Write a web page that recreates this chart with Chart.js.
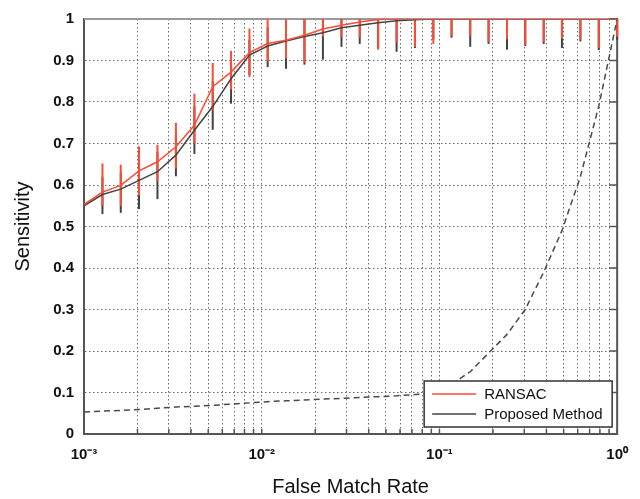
<!DOCTYPE html>
<html>
<head>
<meta charset="utf-8">
<script src="https://cdn.jsdelivr.net/npm/chart.js@4/dist/chart.umd.min.js"></script>
<style>
  html, body { margin: 0; padding: 0; background: #fff; }
  #wrap { width: 640px; height: 499px; }
</style>
</head>
<body>
<div id="wrap"><canvas id="chart"></canvas></div>
<script>
// false match rate sample points (log spaced)
const fmr = [0.001, 0.00127, 0.00161, 0.00204, 0.00259, 0.00329, 0.00418, 0.0053, 0.00672, 0.00853,
             0.0108, 0.0137, 0.0174, 0.0221, 0.0281, 0.0356, 0.0452, 0.0574, 0.0728, 0.0924,
             0.117, 0.149, 0.189, 0.24, 0.304, 0.386, 0.489, 0.621, 0.788, 1];

const ransac = [0.553, 0.583, 0.599, 0.634, 0.656, 0.692, 0.744, 0.837, 0.872, 0.919,
                0.941, 0.949, 0.961, 0.976, 0.985, 0.993, 0.999, 1, 1, 1,
                1, 1, 1, 1, 1, 1, 1, 1, 1, 1];
const ransacHigh = [null, 0.652, 0.649, 0.693, 0.697, 0.75, 0.82, 0.894, 0.923, 0.977,
                    1, 1, 1, 1, 1, 1, 1, 1, 1, 1,
                    1, 1, 1, 1, 1, 1, 1, 1, 1, 1];
const ransacLow = [null, 0.55, 0.55, 0.575, 0.61, 0.64, 0.70, 0.78, 0.83, 0.86,
                   0.898, 0.905, 0.895, 0.958, 0.957, 0.955, 0.926, 0.945, 0.933, 0.94,
                   0.959, 0.96, 0.945, 0.951, 0.937, 0.945, 0.953, 0.95, 0.93, 0.957];

const proposed = [0.55, 0.577, 0.59, 0.611, 0.632, 0.672, 0.732, 0.789, 0.856, 0.913,
                  0.935, 0.947, 0.958, 0.967, 0.979, 0.985, 0.991, 0.996, 0.998, 1,
                  1, 1, 1, 1, 1, 1, 1, 1, 1, 1];
const proposedHigh = [null, 0.62, 0.63, 0.66, 0.68, 0.72, 0.79, 0.85, 0.9, 0.95,
                      0.98, 0.99, 1, 1, 1, 1, 1, 1, 1, 1,
                      1, 1, 1, 1, 1, 1, 1, 1, 1, 1];
const proposedLow = [null, 0.53, 0.533, 0.542, 0.566, 0.621, 0.675, 0.733, 0.796, 0.865,
                     0.884, 0.88, 0.89, 0.902, 0.933, 0.94, 0.93, 0.921, 0.93, 0.95,
                     0.955, 0.933, 0.94, 0.926, 0.935, 0.94, 0.93, 0.946, 0.925, 0.95];

const chance = [0.053, 0.055, 0.057, 0.059, 0.062, 0.065, 0.067, 0.069, 0.072, 0.075,
                0.078, 0.080, 0.082, 0.084, 0.086, 0.088, 0.090, 0.092, 0.095, 0.098,
                0.12, 0.15, 0.195, 0.24, 0.30, 0.39, 0.49, 0.62, 0.79, 1.0];

const xTicks = [0.001, 0.002, 0.003, 0.004, 0.005, 0.006, 0.007, 0.008, 0.009,
                0.01, 0.02, 0.03, 0.04, 0.05, 0.06, 0.07, 0.08, 0.09,
                0.1, 0.2, 0.3, 0.4, 0.5, 0.6, 0.7, 0.8, 0.9, 1];
const majorTicks = [0.001, 0.01, 0.1, 1];
const majorLabels = ['10\u207B\u00B3', '10\u207B\u00B2', '10\u207B\u00B9', '10\u2070'];

const RED = '#ff4b33';
const DARK = '#434343';
const FONT = "'Liberation Sans', Arial, Helvetica, sans-serif";

const pts = (ys) => fmr.map((x, i) => ({x: x, y: ys[i]}));

const extras = {
    id: 'extras',
    beforeDatasetsDraw(chart) {
        const {ctx, chartArea: a, scales: {x, y}} = chart;
        ctx.save();
        // top and right edges of the box
        ctx.lineWidth = 2;
        ctx.strokeStyle = '#9a9a9a';
        ctx.beginPath(); ctx.moveTo(a.left, a.top); ctx.lineTo(a.right, a.top); ctx.stroke();
        ctx.strokeStyle = '#555';
        ctx.beginPath(); ctx.moveTo(a.right, a.top - 1); ctx.lineTo(a.right, a.bottom + 1); ctx.stroke();
        // inward tick marks, bottom and right
        ctx.lineWidth = 1.5;
        xTicks.forEach(v => {
            const px = x.getPixelForValue(v);
            ctx.beginPath(); ctx.moveTo(px, a.bottom); ctx.lineTo(px, a.bottom - 5); ctx.stroke();
        });
        for (let v = 0; v <= 10; v++) {
            const py = y.getPixelForValue(v / 10);
            ctx.beginPath(); ctx.moveTo(a.right, py); ctx.lineTo(a.right - 8, py); ctx.stroke();
        }
        // error bars: proposed first, RANSAC on top
        const bars = (lo, hi, color) => {
            ctx.strokeStyle = color;
            ctx.lineWidth = 2;
            fmr.forEach((v, i) => {
                if (lo[i] == null) return;
                const px = x.getPixelForValue(v);
                ctx.beginPath();
                ctx.moveTo(px, y.getPixelForValue(lo[i]));
                ctx.lineTo(px, y.getPixelForValue(hi[i]));
                ctx.stroke();
            });
        };
        bars(proposedLow, proposedHigh, DARK);
        bars(ransacLow, ransacHigh, RED);
        ctx.restore();
    },
    afterDraw(chart) {
        const {ctx, chartArea: a} = chart;
        const w = 188, h = 46;
        const lx = a.right - 5 - w, ly = a.bottom - 7 - h;
        ctx.save();
        ctx.fillStyle = '#fff';
        ctx.fillRect(lx, ly, w, h);
        ctx.strokeStyle = '#333';
        ctx.lineWidth = 1.5;
        ctx.strokeRect(lx, ly, w, h);
        const items = chart.data.datasets.slice(0, 2);
        ctx.font = '15px ' + FONT;
        ctx.textBaseline = 'middle';
        items.forEach((ds, i) => {
            const yy = ly + 13 + i * 20;
            ctx.strokeStyle = ds.borderColor;
            ctx.lineWidth = 1.5;
            ctx.beginPath(); ctx.moveTo(lx + 8, yy); ctx.lineTo(lx + 52, yy); ctx.stroke();
            ctx.fillStyle = '#111';
            ctx.fillText(ds.label, lx + 60, yy + 1);
        });
        ctx.restore();
    }
};

new Chart(document.getElementById('chart'), {
    type: 'line',
    data: {
        datasets: [
            {label: 'RANSAC', data: pts(ransac), borderColor: RED, borderWidth: 1.5, pointRadius: 0, tension: 0},
            {label: 'Proposed Method', data: pts(proposed), borderColor: DARK, borderWidth: 1.5, pointRadius: 0, tension: 0},
            {label: 'chance', data: pts(chance), borderColor: '#4a4a4a', borderWidth: 1.5, borderDash: [6, 4], pointRadius: 0, tension: 0}
        ]
    },
    options: {
        responsive: true,
        maintainAspectRatio: false,
        animation: false,
        layout: {padding: {left: 0, top: 15, right: 21, bottom: 0}},
        plugins: {legend: {display: false}, tooltip: {enabled: false}},
        scales: {
            x: {
                type: 'logarithmic',
                min: 0.001,
                max: 1,
                afterBuildTicks(scale) { scale.ticks = xTicks.map(v => ({value: v})); },
                afterFit(scale) { scale.height = 65; },
                grid: {color: '#6a6a6a', lineWidth: 1, drawTicks: false},
                border: {color: '#555', width: 2, dash: [1.5, 2.5]},
                ticks: {
                    autoSkip: false,
                    maxRotation: 0,
                    padding: 12,
                    color: '#111',
                    font: {family: FONT, size: 15, weight: 'bold'},
                    callback(v) {
                        const i = majorTicks.findIndex(m => Math.abs(m - v) < m * 1e-6);
                        return i >= 0 ? majorLabels[i] : '';
                    }
                },
                title: {display: true, text: 'False Match Rate', color: '#111',
                        font: {family: FONT, size: 20}, padding: {top: 0, bottom: 0}}
            },
            y: {
                min: 0,
                max: 1,
                afterFit(scale) { scale.width = 84; },
                grid: {color: '#6a6a6a', lineWidth: 1, drawTicks: false},
                border: {color: '#555', width: 2, dash: [1.5, 2.5]},
                ticks: {
                    stepSize: 0.1,
                    padding: 10,
                    color: '#111',
                    font: {family: FONT, size: 15, weight: 'bold'},
                    callback: (v) => String(+v.toFixed(1))
                },
                title: {display: true, text: 'Sensitivity', color: '#111',
                        font: {family: FONT, size: 20}, padding: {top: 11, bottom: 0}}
            }
        }
    },
    plugins: [extras]
});
</script>
</body>
</html>
